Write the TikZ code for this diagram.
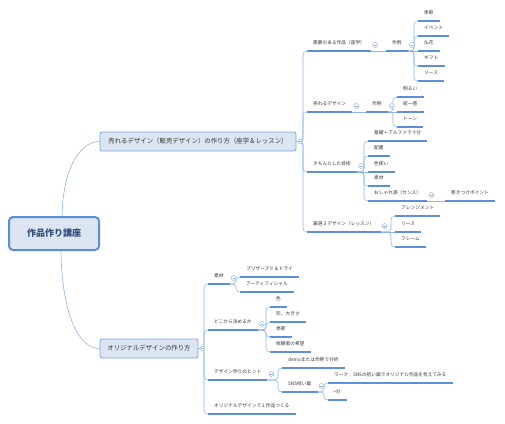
\documentclass[tikz,border=0pt]{standalone}
\usepackage{fontspec}
\setmainfont{Noto Sans CJK JP}
\definecolor{txt}{HTML}{333333}
\definecolor{boxfill}{HTML}{DCE6F2}
\definecolor{boxline}{HTML}{7AA4E2}
\definecolor{rootline}{HTML}{5A8ED8}
\definecolor{roottxt}{HTML}{2F4B78}
\definecolor{ulc}{HTML}{5C8FDC}
\definecolor{connc}{HTML}{8EB4EC}
\begin{document}
\begin{tikzpicture}[x=1pt,y=-1pt,
  leaf/.style={anchor=south west, inner xsep=6pt, inner ysep=5pt, text height=4pt, text depth=1pt, font=\fontsize{4.7}{5}\selectfont, text=txt},
  topic/.style={draw=boxline, fill=boxfill, line width=0.8pt, rounded corners=2pt, minimum height=19pt, inner xsep=6pt, font=\fontsize{6.4}{7}\selectfont, text=txt},
  rootbox/.style={draw=rootline, fill=boxfill, line width=2pt, rounded corners=4pt, minimum width=90pt, minimum height=33pt, font=\fontsize{9}{10}\selectfont\bfseries, text=roottxt},
  ul/.style={draw=ulc, line width=1.2pt},
  conn/.style={draw=connc, line width=0.6pt, rounded corners=3.5pt},
  straight/.style={draw=connc, line width=0.6pt},
  tog/.style={circle, draw=connc, fill=white, minimum size=5pt, inner sep=0pt, line width=0.5pt,
    path picture={\draw[connc, line width=0.4pt] ([xshift=-1.3pt]path picture bounding box.center) -- ([xshift=1.3pt]path picture bounding box.center);}},
  curve/.style={draw=connc, line width=0.6pt},
]
\useasboundingbox (0,0) rectangle (505,423);

% root and main topics
\node[rootbox] (root) at (54,233.5) {作品作り講座};
\node[topic, minimum width=196pt] (b1) at (198,141.5) {売れるデザイン（販売デザイン）の作り方（座学＆レッスン）};
\node[topic, minimum width=98pt] (b2) at (149,348.5) {オリジナルデザインの作り方};

% branch 1
\node[leaf] (a1) at (307,51) {需要のある作品（座学）};
\node[leaf] (a1e) at (386,51) {作例};
\node[leaf] (a1e1) at (418,21) {季節};
\node[leaf] (a1e2) at (418,36) {イベント};
\node[leaf] (a1e3) at (418,51) {仏花};
\node[leaf] (a1e4) at (418,66) {ギフト};
\node[leaf] (a1e5) at (418,81) {リース};
\node[leaf] (a2) at (307,112) {売れるデザイン};
\node[leaf] (a2e) at (366,112) {作例};
\node[leaf] (a2e1) at (397,97) {明るい};
\node[leaf] (a2e2) at (397,112) {統一感};
\node[leaf] (a2e3) at (397,127) {トーン};
\node[leaf] (a3) at (307,172) {きちんとした技術};
\node[leaf] (a3a) at (368,141) {基礎＋アルファで十分};
\node[leaf] (a3b) at (368,156) {配置};
\node[leaf] (a3c) at (368,172) {色使い};
\node[leaf] (a3d) at (368,186) {素材};
\node[leaf] (a3e) at (368,201) {おしゃれ感（センス）};
\node[leaf] (a3e1) at (445,201) {惹きつけポイント};
\node[leaf] (a4) at (307,232) {厳選３デザイン（レッスン）};
\node[leaf] (a4a) at (395,216) {アレンジメント};
\node[leaf] (a4b) at (395,232) {リース};
\node[leaf] (a4c) at (395,247) {フレーム};

% branch 2
\node[leaf] (m1) at (208,284) {素材};
\node[leaf] (m1a) at (240,277) {プリザーブド＆ドライ};
\node[leaf] (m1b) at (240,292) {アーティフィシャル};
\node[leaf] (m2) at (208,330) {どこから決めるか};
\node[leaf] (m2a) at (270,307) {色};
\node[leaf] (m2b) at (270,322) {形、大きさ};
\node[leaf] (m2c) at (270,337) {季節};
\node[leaf] (m2d) at (270,352) {依頼者の希望};
\node[leaf] (m3) at (208,380) {デザイン作りのヒント};
\node[leaf] (m3a) at (282,368) {demoまたは作例で分析};
\node[leaf] (m3b) at (282,392) {SNS拾い画};
\node[leaf] (m3b1) at (328,383) {ワーク：SNSの拾い画でオリジナル作品を考えてみる};
\node[leaf] (m3b2) at (328,400) {•分};
\node[leaf] (m4) at (208,414) {オリジナルデザインで１作品つくる};

% root connectors
\draw[curve] ([xshift=8pt]root.north) .. controls (63,168) and (80,141.5) .. (b1.west);
\draw[curve] ([xshift=7pt]root.south) .. controls (62,318) and (80,348.5) .. (b2.west);

% trunk connectors
\foreach \c in {a1,a2,a3,a4}
  \draw[conn] (b1.east) -| ([xshift=-4pt]\c.south west) -- (\c.south west);
\foreach \c in {m1,m2,m3,m4}
  \draw[conn] (b2.east) -| ([xshift=-4pt]\c.south west) -- (\c.south west);

% bracket connectors
\foreach \p/\c in {a1e/a1e1,a1e/a1e2,a1e/a1e4,a1e/a1e5,
                   a2e/a2e1,a2e/a2e3,
                   a3/a3a,a3/a3b,a3/a3d,a3/a3e,
                   a4/a4a,a4/a4c,
                   m1/m1a,m1/m1b,
                   m2/m2a,m2/m2b,m2/m2c,m2/m2d,
                   m3/m3a,m3/m3b,
                   m3b/m3b1,m3b/m3b2}
  \draw[conn] (\p.south east) -| ([xshift=-4pt]\c.south west) -- (\c.south west);
\foreach \p/\c in {a1/a1e,a1e/a1e3,a2/a2e,a2e/a2e2,a3/a3c,a3e/a3e1,a4/a4b}
  \draw[straight] (\p.south east) -- (\c.south west);

% underlines
\foreach \n in {a1,a1e,a1e1,a1e2,a1e3,a1e4,a1e5,a2,a2e,a2e1,a2e2,a2e3,
                a3,a3a,a3b,a3c,a3d,a3e,a3e1,a4,a4a,a4b,a4c,
                m1,m1a,m1b,m2,m2a,m2b,m2c,m2d,m3,m3a,m3b,m3b1,m3b2,m4}
  \draw[ul] (\n.south west) -- (\n.south east);

% collapse toggles
\node[tog] (tb1) at ([xshift=4pt]b1.east) {};
\node[tog] (tb2) at ([xshift=4pt]b2.east) {};
\foreach \p in {a1,a1e,a2,a2e,a3,a3e,a4,m1,m2,m3,m3b}
  \node[tog] (t\p) at ([xshift=4pt,yshift=6pt]\p.south east) {};
\end{tikzpicture}
\end{document}
